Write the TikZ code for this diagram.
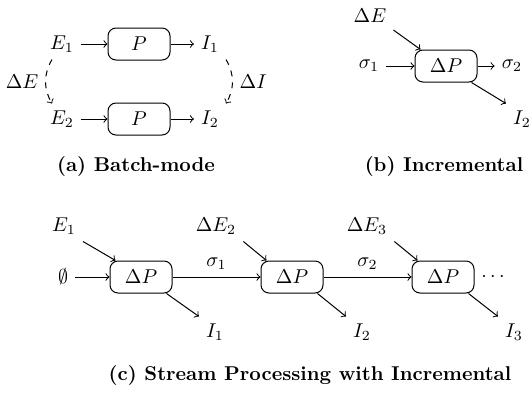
\documentclass[tikz,border=0pt]{standalone}
\usepackage{amssymb}
\begin{document}
\begin{tikzpicture}[x=0.5pt,y=-0.5pt,>=to,line width=0.5pt,
  proc/.style={draw,rounded corners=4pt,minimum width=31pt,minimum height=16pt,inner sep=0pt},
  flow/.style={->},
  delta/.style={->,dashed},
  caption/.style={font=\bfseries}]
\useasboundingbox (0,0) rectangle (530,392);

% (a) batch mode: two full runs of P
\node (E1a) at (62,44) {$E_1$};
\node[proc] (P1a) at (139,44) {$P$};
\node (I1a) at (210,44) {$I_1$};
\node (E2a) at (62,119) {$E_2$};
\node[proc] (P2a) at (139,119) {$P$};
\node (I2a) at (210,119) {$I_2$};
\draw[flow] (E1a) -- (P1a);
\draw[flow] (P1a) -- (I1a);
\draw[flow] (E2a) -- (P2a);
\draw[flow] (P2a) -- (I2a);
\draw[delta] ([xshift=-5pt]E1a.south) to[bend right=30] node[left] {$\Delta E$} ([xshift=-5pt]E2a.north);
\draw[delta] ([xshift=8pt]I1a.south) to[bend left=30] node[right] {$\Delta I$} ([xshift=8pt]I2a.north);
\node[caption] (capa) at (136,166) {(a) Batch-mode};

% (b) one incremental step
\node[proc] (dPb) at (446,66) {$\Delta P$};
\node (s1b) at (369,66) {$\sigma_1$};
\node (s2b) at (512,66) {$\sigma_2$};
\node (dEb) at (370,16) {$\Delta E$};
\node (I2b) at (522,119) {$I_2$};
\draw[flow] (s1b) -- (dPb);
\draw[flow] (dPb) -- (s2b);
\draw[flow] (dEb.south east) -- ([xshift=3pt]dPb.north west);
\draw[flow] ([xshift=-3pt]dPb.south east) -- (I2b.north west);
\node[caption] (capb) at (444,166) {(b) Incremental};

% (c) chain of incremental steps over a stream
\node (e0) at (63,277) {$\emptyset$};
\node[proc] (dP1) at (141,277) {$\Delta P$};
\node[proc] (dP2) at (292,277) {$\Delta P$};
\node[proc] (dP3) at (443,277) {$\Delta P$};
\node (dots) at (493,277) {$\cdots$};
\node (E1c) at (64,226) {$E_1$};
\node (dE2c) at (216,226) {$\Delta E_2$};
\node (dE3c) at (367,226) {$\Delta E_3$};
\node (I1c) at (215,332) {$I_1$};
\node (I2c) at (362,332) {$I_2$};
\node (I3c) at (514,332) {$I_3$};
\draw[flow] (e0) -- (dP1);
\draw[flow] (dP1) -- node[above] {$\sigma_1$} (dP2);
\draw[flow] (dP2) -- node[above] {$\sigma_2$} (dP3);
\draw[flow] (E1c.south east) -- ([xshift=3pt]dP1.north west);
\draw[flow] (dE2c.south east) -- ([xshift=3pt]dP2.north west);
\draw[flow] (dE3c.south east) -- ([xshift=3pt]dP3.north west);
\draw[flow] ([xshift=-3pt]dP1.south east) -- (I1c.north west);
\draw[flow] ([xshift=-3pt]dP2.south east) -- (I2c.north west);
\draw[flow] ([xshift=-3pt]dP3.south east) -- (I3c.north west);
\node[caption] (capc) at (310,375) {(c) Stream Processing with Incremental};
\end{tikzpicture}
\end{document}
